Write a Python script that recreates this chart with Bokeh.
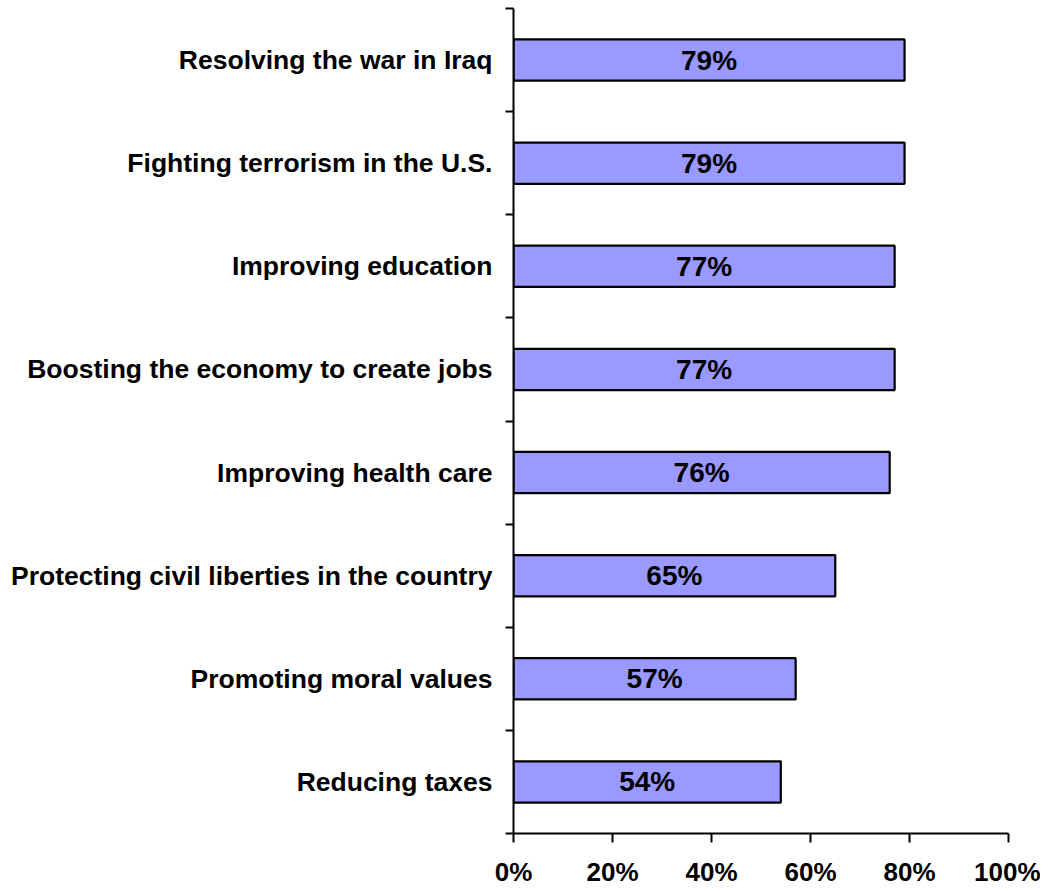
from bokeh.plotting import figure
from bokeh.models import Range1d, FixedTicker, ColumnDataSource
from bokeh.core.properties import value
from bokeh.embed import file_html
from bokeh.resources import INLINE

# Data (top to bottom as shown)
categories = [
    "Resolving the war in Iraq",
    "Fighting terrorism in the U.S.",
    "Improving education",
    "Boosting the economy to create jobs",
    "Improving health care",
    "Protecting civil liberties in the country",
    "Promoting moral values",
    "Reducing taxes",
]
values = [79, 79, 77, 77, 76, 65, 57, 54]
x_ticks = [0, 20, 40, 60, 80, 100]
x_tick_labels = ["0%", "20%", "40%", "60%", "80%", "100%"]

n = len(categories)
ypos = [n - 1 - i + 0.5 for i in range(n)]
FONT = "Liberation Sans"

src = ColumnDataSource(dict(
    y=ypos,
    v=values,
    mid=[v / 2 for v in values],
    lab=[f"{v}%" for v in values],
))

p = figure(width=1040, height=889, output_backend="svg", toolbar_location=None,
           x_range=Range1d(0, 100), y_range=Range1d(0, n),
           min_border_left=513, min_border_right=32, min_border_top=8,
           min_border_bottom=54)
p.outline_line_color = None
p.xgrid.visible = False
p.ygrid.visible = False
p.background_fill_color = "white"

p.hbar(y="y", right="v", left=0, height=0.4, source=src,
       fill_color="#9999FF", line_color="black", line_width=2.2)

p.text(x="mid", y="y", text="lab", source=src,
       text_align="center", text_baseline="middle",
       text_font=value(FONT), text_font_style="bold",
       text_font_size="28px", text_color="black")

# X axis
xa = p.xaxis[0]
xa.ticker = FixedTicker(ticks=x_ticks, minor_ticks=[])
xa.major_label_overrides = {t: l for t, l in zip(x_ticks, x_tick_labels)}
xa.axis_line_width = 2
xa.axis_line_color = "black"
xa.major_tick_line_width = 2
xa.major_tick_in = 0
xa.major_tick_out = 9
xa.minor_tick_line_color = None
xa.major_label_text_font = FONT
xa.major_label_text_font_style = "bold"
xa.major_label_text_font_size = "26px"
xa.major_label_text_color = "black"
xa.major_label_standoff = 14

# Y axis: labels at category centers, tick marks at boundaries
ya = p.yaxis[0]
ya.ticker = FixedTicker(ticks=ypos, minor_ticks=list(range(n + 1)))
ya.major_label_overrides = {y: c for y, c in zip(ypos, categories)}
ya.axis_line_width = 2
ya.axis_line_color = "black"
ya.major_tick_line_color = None
ya.major_tick_in = 0
ya.major_tick_out = 0
ya.minor_tick_line_color = "black"
ya.minor_tick_line_width = 2
ya.minor_tick_in = 0
ya.minor_tick_out = 8
ya.major_label_text_font = FONT
ya.major_label_text_font_style = "bold"
ya.major_label_text_font_size = "26.5px"
ya.major_label_text_color = "black"
ya.major_label_standoff = 13

open("out.html", "w").write(file_html(p, INLINE))
